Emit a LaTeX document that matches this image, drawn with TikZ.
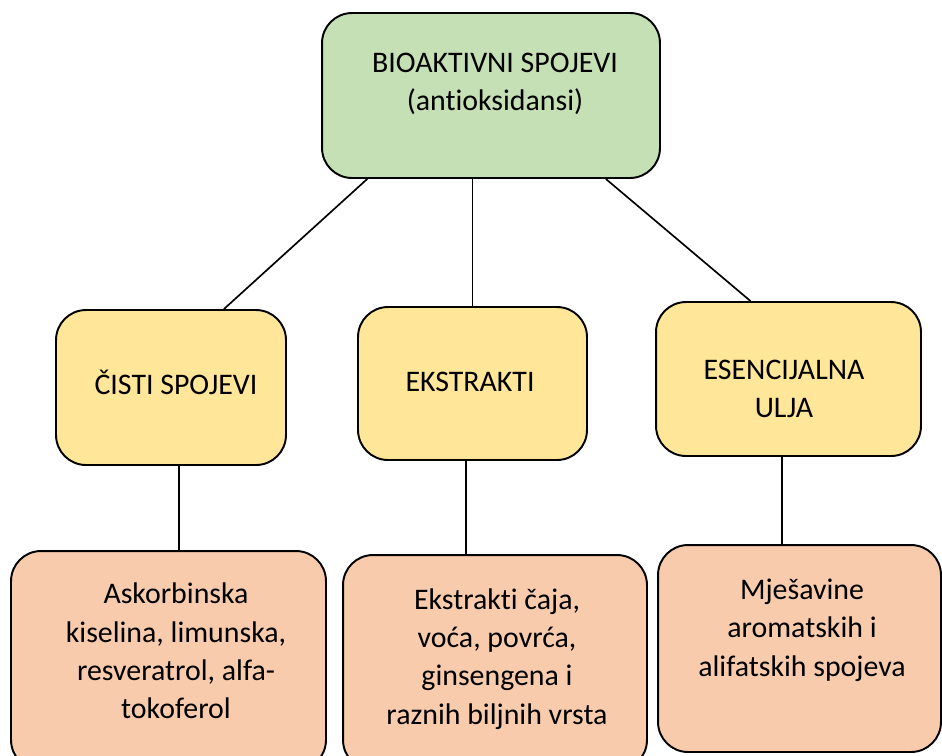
\documentclass[tikz,border=0pt]{standalone}
\usepackage{fontspec}
\setmainfont{Carlito}[Ligatures=NoCommon]
\usepackage{tikz}
\definecolor{vert}{RGB}{197,224,180}
\definecolor{jaune}{RGB}{255,230,153}
\definecolor{peche}{RGB}{248,203,173}
\begin{document}
\begin{tikzpicture}[x=0.02cm,y=-0.02cm,
  boite/.style={draw=black, line width=1.1pt, rounded corners=0.6cm, inner sep=0pt},
  texte/.style={align=center, font=\fontsize{17}{21.8}\selectfont},
  trait/.style={line width=0.95pt}]
\useasboundingbox (0,0) rectangle (942,755);
\clip (0,0) rectangle (942,755);
\node [boite, fill=vert, minimum width=6.76cm, minimum height=3.3cm] (bio) at (491,95.5) {};
\node [boite, fill=jaune, minimum width=4.6cm, minimum height=3.1cm] (cisti) at (171,387.5) {};
\node [boite, fill=jaune, minimum width=4.58cm, minimum height=3.06cm] (ekstr) at (472.5,383.5) {};
\node [boite, fill=jaune, minimum width=5.3cm, minimum height=3.08cm] (ulja) at (788.5,379) {};
\node [boite, fill=peche, minimum width=6.3cm, minimum height=4.38cm] (askor) at (168.5,660.5) {};
\node [boite, fill=peche, minimum width=6.08cm, minimum height=4.3cm] (biljne) at (495,662.5) {};
\node [boite, fill=peche, minimum width=5.66cm, minimum height=4.14cm] (mjes) at (799.5,648.5) {};
\node [texte] (tbio) at (495,84) {BIOAKTIVNI SPOJEVI\\(antioksidansi)};
\node [texte] (tcisti) at (176,382) {ČISTI SPOJEVI};
\node [texte] (tekstr) at (470,382) {EKSTRAKTI};
\node [texte] (tulja) at (784,389) {ESENCIJALNA\\ULJA};
\node [texte] (taskor) at (176,651) {Askorbinska\\kiselina, limunska,\\resveratrol, alfa-\\tokoferol};
\node [texte] (tbiljne) at (497,659) {Ekstrakti čaja,\\voća, povrća,\\ginsengena i\\raznih biljnih vrsta};
\node [texte] (tmjes) at (802,630) {Mješavine\\aromatskih i\\alifatskih spojeva};
\draw [trait] (bio.214.3) -- (cisti.56.7);
\draw [trait] (bio.south -| ekstr.north) -- (ekstr.north);
\draw [trait] (bio.324.8) -- (ulja.116.6);
\draw [trait] (cisti.276.6) -- (cisti.276.6 |- askor.north);
\draw [trait] (ekstr.265.9) -- (ekstr.265.9 |- biljne.north);
\draw [trait] (ulja.265.2) -- (ulja.265.2 |- mjes.north);
\end{tikzpicture}
\end{document}
